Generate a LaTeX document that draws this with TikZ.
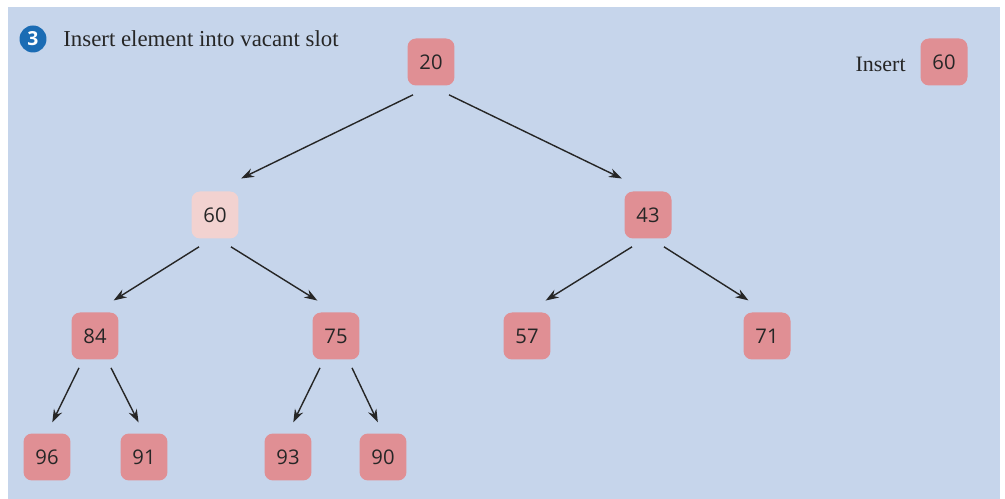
\documentclass[tikz,border=0pt]{standalone}
\usepackage{fontspec}
\setmainfont{Liberation Serif}
\newfontfamily\keyfont{Open Sans}
\usepackage{xcolor}
\usetikzlibrary{arrows.meta, calc}
\definecolor{panel}{HTML}{C6D5EB}
\definecolor{keyred}{HTML}{E08F94}
\definecolor{keypale}{HTML}{F2D2D0}
\definecolor{badgeblue}{HTML}{1B6CB4}
\definecolor{ink}{HTML}{262626}
\tikzstyle{key} = [rectangle, rounded corners=0.17cm, minimum width=0.94cm, minimum height=0.94cm,
                   inner sep=0pt, fill=keyred, text=ink, font=\keyfont\fontsize{11.5}{13}\selectfont]
\tikzstyle{arrow} = [-{Stealth[length=0.26cm, width=0.18cm]}, line width=0.8pt, draw=ink]

\begin{document}
\begin{tikzpicture}[x=0.02cm, y=-0.02cm]
    \useasboundingbox (0,0) rectangle (1005,499);
    \fill[panel] (8,7) rectangle (1000,499);

    % Step caption
    \node[circle, fill=badgeblue, minimum size=0.54cm, inner sep=0pt, text=white,
          font=\keyfont\bfseries\fontsize{11}{12}\selectfont] (badge) at (33,39) {3};
    \node[anchor=base west, inner sep=0pt, text=ink, font=\fontsize{13}{15}\selectfont] (caption) at (63,47) {Insert element into vacant slot};

    % Element to insert
    \node[key] (newkey) at (944,62) {60};
    \node[anchor=base east, inner sep=0pt, text=ink, font=\fontsize{12.5}{14}\selectfont] (insertlbl) at (906,72) {Insert};

    % Heap
    \node[key] (n20) at (431,62) {20};
    \node[key, fill=keypale] (n60) at (215,215) {60};
    \node[key] (n43) at (648,215) {43};
    \node[key] (n84) at (95,336) {84};
    \node[key] (n75) at (336,336) {75};
    \node[key] (n57) at (527,336) {57};
    \node[key] (n71) at (767,336) {71};
    \node[key] (n96) at (47,457) {96};
    \node[key] (n91) at (144,457) {91};
    \node[key] (n93) at (288,457) {93};
    \node[key] (n90) at (383,457) {90};

    % Level 1
    \draw[arrow, shorten >=0.58cm] ($(n20.south)+(-18,9)$) -- (n60.north);
    \draw[arrow, shorten >=0.58cm] ($(n20.south)+(18,9)$) -- (n43.north);

    % Level 2
    \draw[arrow, shorten >=0.44cm] ($(n60.south)+(-16,8)$) -- (n84.north);
    \draw[arrow, shorten >=0.44cm] ($(n60.south)+(16,8)$) -- (n75.north);
    \draw[arrow, shorten >=0.44cm] ($(n43.south)+(-16,8)$) -- (n57.north);
    \draw[arrow, shorten >=0.44cm] ($(n43.south)+(16,8)$) -- (n71.north);

    % Level 3
    \draw[arrow, shorten >=0.24cm] ($(n84.south)+(-16,8)$) -- (n96.north);
    \draw[arrow, shorten >=0.24cm] ($(n84.south)+(16,8)$) -- (n91.north);
    \draw[arrow, shorten >=0.24cm] ($(n75.south)+(-16,8)$) -- (n93.north);
    \draw[arrow, shorten >=0.24cm] ($(n75.south)+(16,8)$) -- (n90.north);
\end{tikzpicture}
\end{document}
